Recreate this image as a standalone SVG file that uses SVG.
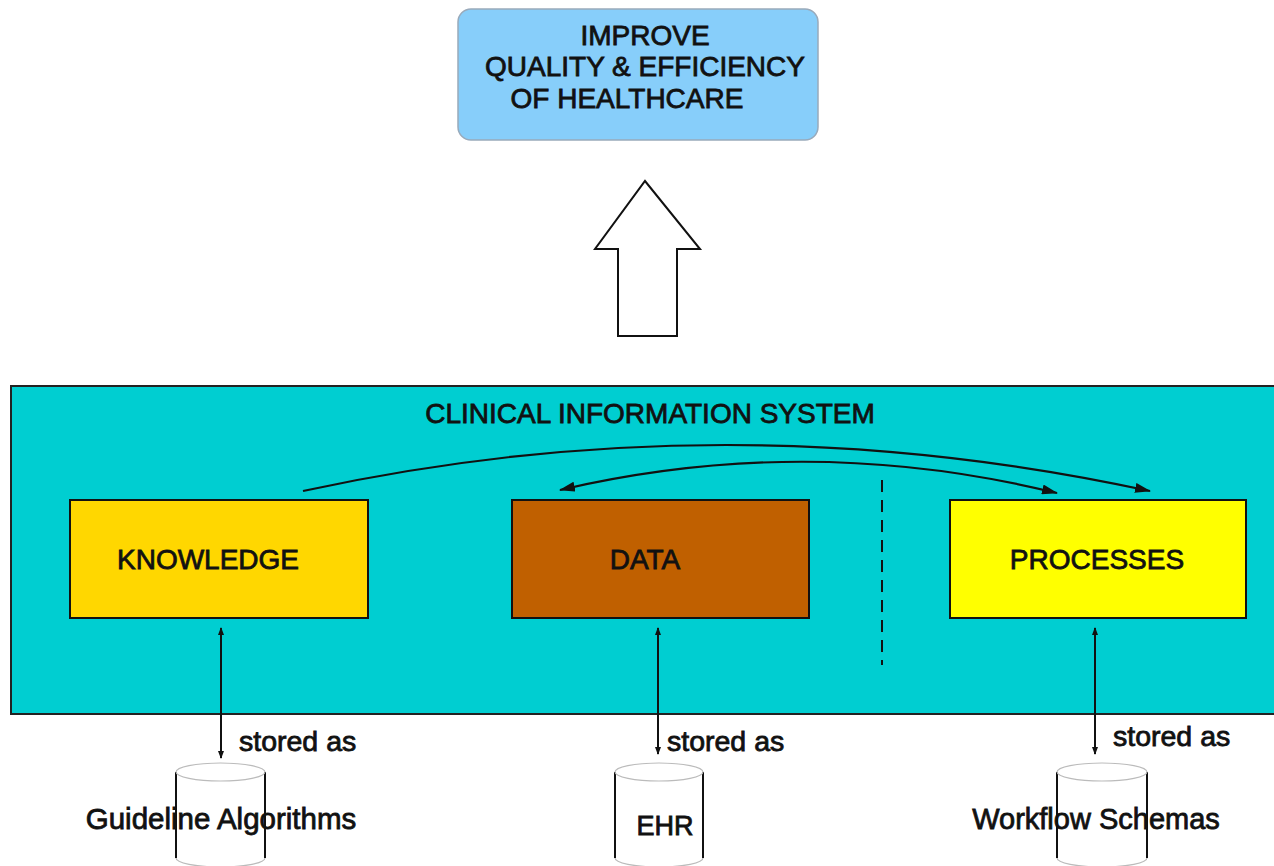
<svg xmlns="http://www.w3.org/2000/svg" width="1274" height="866" viewBox="0 0 1274 866">
<defs>
<style>
text{font-family:"Liberation Sans",Arial,sans-serif;fill:#111;stroke:#111;stroke-width:0.8;}
.h{font-size:28px;}
.box{stroke:#111;stroke-width:2;}
.ln{fill:none;stroke:#111;stroke-width:2.2;}
.cyl{fill:#fff;stroke:#111;stroke-width:2;}
.rim{fill:none;stroke:#bbb;stroke-width:1.2;}
</style>
<marker id="ah" viewBox="0 0 16 10" refX="15" refY="5" markerWidth="16" markerHeight="10" markerUnits="userSpaceOnUse" orient="auto-start-reverse">
<path d="M0,0 L16,5 L0,10 z" fill="#111"/>
</marker>
<marker id="sh" viewBox="0 0 8 6" refX="7" refY="3" markerWidth="8" markerHeight="6" markerUnits="userSpaceOnUse" orient="auto-start-reverse">
<path d="M0,0 L8,3 L0,6 z" fill="#111"/>
</marker>
</defs>
<rect width="1274" height="866" fill="#fff"/>
<g id="goal">
<rect x="458" y="9" width="360" height="131" rx="13" fill="#87CEFA" stroke="#9ab" stroke-width="1.5"/>
<text class="h" x="645" y="45" text-anchor="middle">IMPROVE</text>
<text class="h" x="645" y="76" text-anchor="middle">QUALITY &amp; EFFICIENCY</text>
<text class="h" x="627" y="108" text-anchor="middle">OF HEALTHCARE</text>
</g>
<g id="big-arrow">
<path d="M645,181 L700,249 L677,249 L677,336 L618,336 L618,249 L595,249 Z" fill="#fff" stroke="#111" stroke-width="2"/>
</g>
<g id="cis">
<rect x="11" y="386" width="1275" height="328" fill="#00CED1" stroke="#222" stroke-width="2"/>
<text class="h" x="650" y="423" text-anchor="middle">CLINICAL INFORMATION SYSTEM</text>
</g>
<g id="knowledge">
<rect class="box" x="70" y="500" width="298" height="118" fill="#FFD700"/>
<text class="h" x="208" y="569" text-anchor="middle">KNOWLEDGE</text>
</g>
<g id="data">
<rect class="box" x="512" y="500" width="297" height="118" fill="#C06000"/>
<text class="h" x="645" y="569" text-anchor="middle">DATA</text>
</g>
<g id="processes">
<rect class="box" x="950" y="500" width="296" height="118" fill="#FFFF00"/>
<text class="h" x="1097" y="569" text-anchor="middle">PROCESSES</text>
</g>
<g id="guideline-db">
<path class="cyl" d="M176,772 L176,858 M265,772 L265,858"/>
<ellipse class="rim" cx="220.5" cy="772" rx="44.5" ry="9"/>
<path class="rim" d="M176,858 A44.5,9 0 0 0 265,858"/>
<text x="221" y="829" font-size="29.5" text-anchor="middle">Guideline Algorithms</text>
</g>
<g id="ehr-db">
<path class="cyl" d="M615,772 L615,858 M703,772 L703,858"/>
<ellipse class="rim" cx="659" cy="772" rx="44" ry="9"/>
<path class="rim" d="M615,858 A44,9 0 0 0 703,858"/>
<text x="665" y="835" font-size="27" text-anchor="middle">EHR</text>
</g>
<g id="workflow-db">
<path class="cyl" d="M1057,772 L1057,858 M1147,772 L1147,858"/>
<ellipse class="rim" cx="1102" cy="772" rx="45" ry="9"/>
<path class="rim" d="M1057,858 A45,9 0 0 0 1147,858"/>
<text x="1096" y="829" font-size="29" text-anchor="middle">Workflow Schemas</text>
</g>
<g id="connectors">
<path class="ln" d="M303,491 Q726,399 1150,491" marker-end="url(#ah)"/>
<path class="ln" d="M560,490 Q808,432 1057,493" marker-start="url(#ah)" marker-end="url(#ah)"/>
<line x1="882" y1="480" x2="882" y2="665" stroke="#111" stroke-width="2" stroke-dasharray="12,8"/>
<line x1="221" y1="628" x2="221" y2="758" stroke="#111" stroke-width="2" marker-start="url(#sh)" marker-end="url(#sh)"/>
<line x1="658" y1="628" x2="658" y2="754" stroke="#111" stroke-width="2" marker-start="url(#sh)" marker-end="url(#sh)"/>
<line x1="1095" y1="628" x2="1095" y2="754" stroke="#111" stroke-width="2" marker-start="url(#sh)" marker-end="url(#sh)"/>
<text x="239" y="751" font-size="28.5">stored as</text>
<text x="667" y="751" font-size="28.5">stored as</text>
<text x="1113" y="746" font-size="28.5">stored as</text>
</g>
</svg>
